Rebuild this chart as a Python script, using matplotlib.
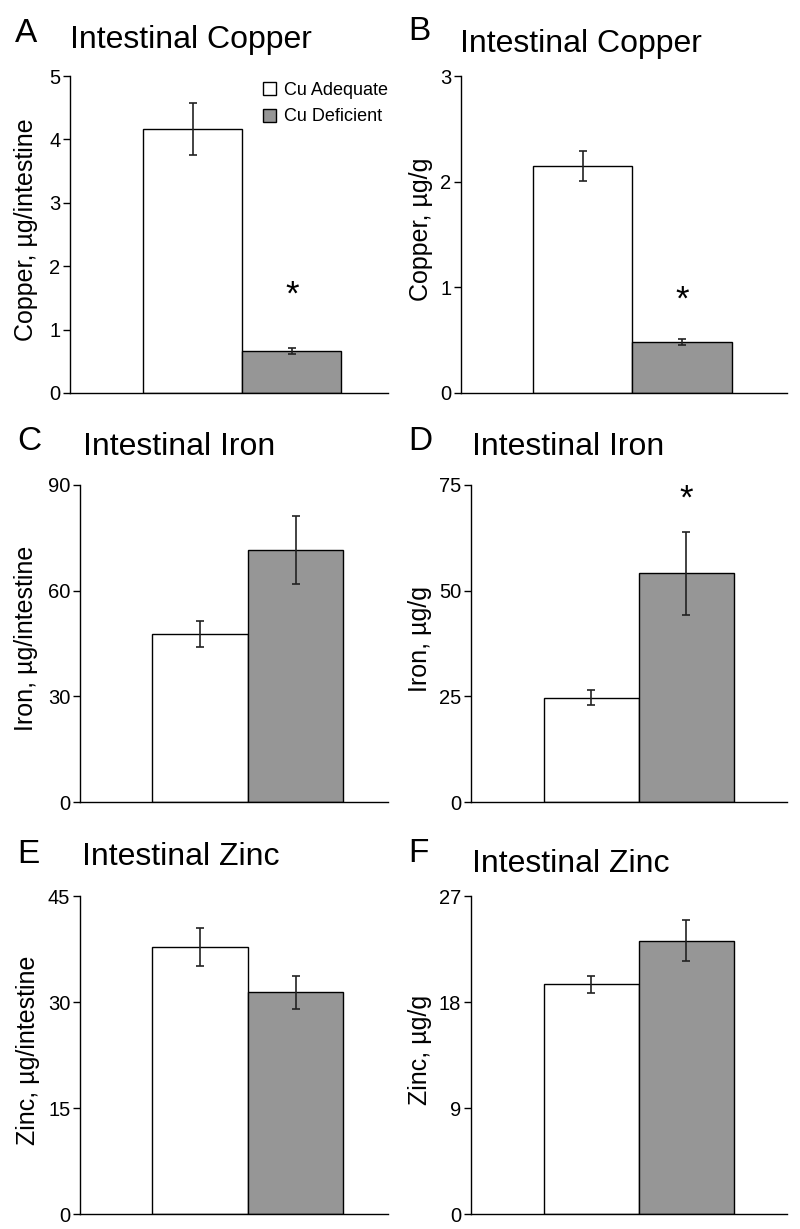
import matplotlib
matplotlib.use("Agg")
import matplotlib.pyplot as plt
from matplotlib.patches import Patch

plt.rcParams['font.family'] = ['Liberation Sans', 'DejaVu Sans']

# Group names
groups = ['Cu Adequate', 'Cu Deficient']

# Panel data: means and SEM
copper_int = [4.17, 0.66]
copper_int_err = [0.41, 0.05]
copper_g = [2.15, 0.48]
copper_g_err = [0.14, 0.03]
iron_int = [47.8, 71.6]
iron_int_err = [3.7, 9.7]
iron_g = [24.7, 54.1]
iron_g_err = [1.8, 9.8]
zinc_int = [37.8, 31.35]
zinc_int_err = [2.65, 2.35]
zinc_g = [19.5, 23.2]
zinc_g_err = [0.7, 1.75]

letters = ['A', 'B', 'C', 'D', 'E', 'F']
titles = ['Intestinal Copper', 'Intestinal Copper', 'Intestinal Iron',
          'Intestinal Iron', 'Intestinal Zinc', 'Intestinal Zinc']
ylabels = ['Copper, µg/intestine', 'Copper, µg/g', 'Iron, µg/intestine',
           'Iron, µg/g', 'Zinc, µg/intestine', 'Zinc, µg/g']
yticks = [[0, 1, 2, 3, 4, 5], [0, 1, 2, 3], [0, 30, 60, 90],
          [0, 25, 50, 75], [0, 15, 30, 45], [0, 9, 18, 27]]
means = [copper_int, copper_g, iron_int, iron_g, zinc_int, zinc_g]
errs = [copper_int_err, copper_g_err, iron_int_err, iron_g_err, zinc_int_err, zinc_g_err]
# asterisk height (data units) for significant panels
stars = [1.55, 0.88, None, 71.7, None, None]

W, H = 800, 1229
fig = plt.figure(figsize=(W / 100, H / 100), dpi=100)

def box(x0, x1, ytop, ybot):
    return [x0 / W, 1 - ybot / H, (x1 - x0) / W, (ybot - ytop) / H]

# axes boxes in pixels: left, right, top, bottom
boxes = [(70, 388, 76, 393), (461, 787, 76, 393),
         (80, 388, 485, 802), (471, 787, 485, 802),
         (80, 388, 896, 1214), (471, 787, 896, 1214)]
xlims = [(-1.24, 1.97), (-1.23, 2.06), (-1.26, 1.97),
         (-1.265, 2.06), (-1.26, 1.97), (-1.265, 2.06)]
label_x = [-0.10, -0.086, -0.136, -0.123, -0.13, -0.123]

# letter (x, baseline) and title (x, baseline) in pixels
letter_pos = [(15, 42), (408, 40), (17, 450), (408, 450), (17, 863), (408, 862)]
title_pos = [(70, 48), (460, 52), (83, 455), (472, 455), (82, 865), (472, 872)]

colors = ['white', '#969696']

for i in range(6):
    ax = fig.add_axes(box(*boxes[i]))
    ax.bar([0, 1], means[i], width=1.0, color=colors, edgecolor='black', linewidth=1.0)
    ax.errorbar([0, 1], means[i], yerr=errs[i], fmt='none', ecolor='#222222',
                elinewidth=1.2, capsize=2.9, capthick=1.2)
    ax.set_xlim(*xlims[i])
    ax.set_ylim(yticks[i][0], yticks[i][-1])
    ax.set_yticks(yticks[i])
    ax.set_xticks([])
    ax.spines['top'].set_visible(False)
    ax.spines['right'].set_visible(False)
    ax.spines['left'].set_linewidth(1.0)
    ax.spines['bottom'].set_linewidth(1.0)
    ax.tick_params(axis='y', length=5, width=1.0, pad=2, labelsize=14.5)
    ax.set_ylabel(ylabels[i], fontsize=18)
    ax.yaxis.set_label_coords(label_x[i], 0.515)
    if stars[i] is not None:
        ax.text(1, stars[i], '*', ha='center', va='center', fontsize=25)

    lx, ly = letter_pos[i]
    fig.text(lx / W, 1 - ly / H, letters[i], fontsize=24, va='baseline', ha='left')
    tx, ty = title_pos[i]
    fig.text(tx / W, 1 - ty / H, titles[i], fontsize=23, va='baseline', ha='left')

    if i == 0:
        handles = [Patch(facecolor=c, edgecolor='black', linewidth=1.0) for c in colors]
        ax.legend(handles, groups, loc='upper right', bbox_to_anchor=(1.01, 0.994),
                  frameon=False, fontsize=13, handlelength=0.75, handleheight=0.75,
                  handletextpad=0.4, labelspacing=0.55, borderaxespad=0.0, borderpad=0.2)

fig.savefig('out.png', dpi=100)
